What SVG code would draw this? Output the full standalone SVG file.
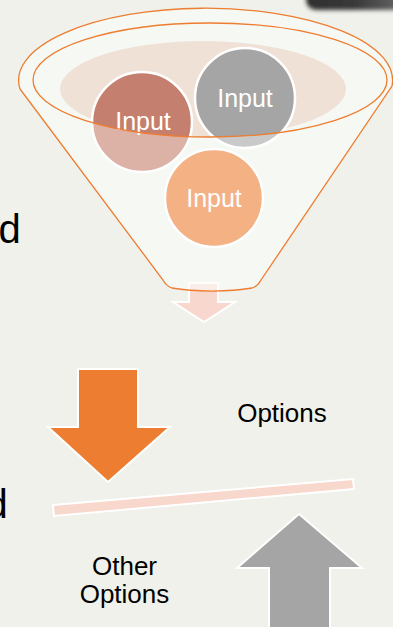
<svg xmlns="http://www.w3.org/2000/svg" width="393" height="627" viewBox="0 0 393 627">
  <defs>
    <style>
      .lbl { font-family: "Liberation Sans", Arial, sans-serif; fill: #000; }
      .inp { font-family: "Liberation Sans", Arial, sans-serif; fill: #fff; font-size: 25px; text-anchor: middle; }
      .arrowW { stroke: #fff; stroke-width: 2; stroke-linejoin: miter; }
      .orangeLine { fill: none; stroke: #ED7D31; stroke-width: 1.3; }
    </style>
    <clipPath id="innerClip">
      <ellipse cx="210" cy="80" rx="177" ry="57"/>
    </clipPath>
    <filter id="blur" x="-20%" y="-50%" width="140%" height="200%">
      <feGaussianBlur stdDeviation="2.2"/>
    </filter>
    <linearGradient id="darkGrad" x1="0" y1="0" x2="1" y2="0">
      <stop offset="0" stop-color="#2e2e2e"/>
      <stop offset="0.5" stop-color="#3a3a3a"/>
      <stop offset="1" stop-color="#6a6a6a"/>
    </linearGradient>
  </defs>

  <rect width="393" height="627" fill="#EFF1EA"/>

  <!-- top-right cropped dark object -->
  <g id="corner-object">
    <rect x="306" y="-30" width="100" height="40" rx="10" fill="url(#darkGrad)" filter="url(#blur)"/>
  </g>

  <!-- side texts -->
  <g id="text-d1"><text class="lbl" x="-1.6" y="243" font-size="40">d</text></g>
  <g id="text-d2"><text class="lbl" x="-14.6" y="518" font-size="40">d</text></g>

  <!-- small output arrow under funnel -->
  <g id="funnel-output-arrow">
    <polygon class="arrowW" fill="#F8D8CE" points="189,283 218,283 218,302 235,302 204,322 173,302 189,302"/>
  </g>

  <!-- funnel -->
  <g id="funnel">
    <path d="M20,89 L163,280 Q166,286 172,288 A 60 12 0 0 0 252 288 Q258,286 261,280 L392,86 A187 72 0 1 0 20 89 Z" fill="#FBFDF9" fill-opacity="0.55"/>
    <ellipse cx="203" cy="89" rx="143" ry="48" fill="#F0E1D7"/>
    <path class="orangeLine" d="M20,89 L163,280 Q166,286 172,288 A 60 12 0 0 0 252 288 Q258,286 261,280 L392,86 A187 72 0 1 0 20 89 Z"/>
  </g>

  <!-- inputs -->
  <g id="input-gray">
    <circle cx="245" cy="98" r="50" fill="#C9C9C9"/>
    <circle cx="245" cy="98" r="50" fill="#A5A5A5" clip-path="url(#innerClip)"/>
    <circle cx="245" cy="98" r="50" fill="none" stroke="#fff" stroke-width="2.5"/>
    <text class="inp" x="245" y="107">Input</text>
  </g>
  <g id="input-red">
    <circle cx="142" cy="122" r="50" fill="#DCB2A7"/>
    <circle cx="142" cy="122" r="50" fill="#C47F6E" clip-path="url(#innerClip)"/>
    <circle cx="142" cy="122" r="50" fill="none" stroke="#fff" stroke-width="2.5"/>
    <text class="inp" x="143" y="130">Input</text>
  </g>
  <g id="input-orange">
    <circle cx="214" cy="198" r="49" fill="#F4B183" stroke="#fff" stroke-width="2.5"/>
    <text class="inp" x="214" y="207">Input</text>
  </g>

  <!-- inner rim drawn on top -->
  <g id="funnel-rim">
    <ellipse class="orangeLine" cx="210" cy="80" rx="177" ry="57"/>
  </g>

  <!-- balance -->
  <g id="arrow-options">
    <polygon class="arrowW" fill="#ED7D31" points="78,369 138,369 138,427 170,427 108,482 48,427 78,427"/>
  </g>
  <g id="balance-bar">
    <polygon class="arrowW" fill="#F8D7CD" points="53,505 353,479 354,489 54,516"/>
  </g>
  <g id="arrow-other">
    <polygon class="arrowW" fill="#A5A5A5" points="299,514 362,568 330,568 330,632 269,632 269,568 237,568"/>
  </g>

  <g id="label-options"><text class="lbl" x="282" y="422" font-size="26" text-anchor="middle">Options</text></g>
  <g id="label-other">
    <text class="lbl" font-size="26" text-anchor="middle"><tspan x="124.5" y="575">Other</tspan><tspan x="124.5" y="603">Options</tspan></text>
  </g>
</svg>
